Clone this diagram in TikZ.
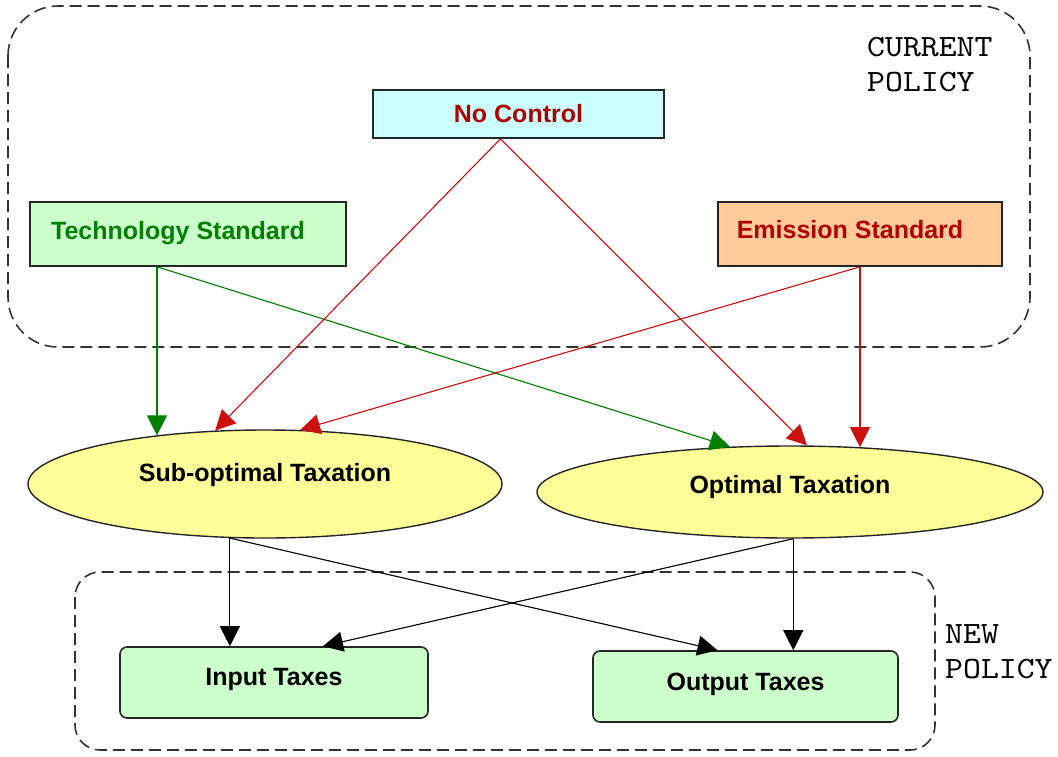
\documentclass[tikz,border=0pt]{standalone}
\usepackage{fontspec}
\setmainfont{Liberation Sans}
\newfontfamily\polfont[FakeStretch=1.1]{lmmono10-regular.otf}
\usetikzlibrary{arrows.meta,calc,shapes.geometric}
\definecolor{dred}{HTML}{B00000}
\definecolor{lred}{HTML}{CC1010}
\definecolor{dgreen}{HTML}{008000}
\definecolor{cyanfill}{HTML}{CCFFFF}
\definecolor{greenfill}{HTML}{CCFFCC}
\definecolor{orangefill}{HTML}{FFCC99}
\definecolor{yellowfill}{HTML}{FFFF99}
\definecolor{dashgray}{HTML}{333333}
\tikzset{
  lbl/.style={font=\fontsize{25}{29}\selectfont\bfseries},
  sqbox/.style={draw=black!85, line width=1.6pt, lbl, inner sep=0pt},
  rdbox/.style={draw=black!85, line width=1.6pt, lbl, inner sep=0pt, rounded corners=7pt},
  ell/.style={ellipse, draw=black!85, line width=1.4pt, fill=yellowfill, lbl, inner sep=0pt},
  region/.style={draw=dashgray, line width=1.6pt, dash pattern=on 12pt off 6pt},
  poltext/.style={font=\polfont\fontsize{31}{35}\selectfont, align=left, anchor=north west, inner sep=0pt},
  tip/.style={-{Triangle[length=20pt,width=20pt]}},
  conn/.style={tip, line width=1.1pt},
}
\begin{document}
\begin{tikzpicture}[x=1pt,y=-1pt]
\useasboundingbox (0,0) rectangle (1058,756);
% regions
\draw[region, rounded corners=50pt] (8,6) rectangle (1030,347);
\draw[region, rounded corners=25pt] (75,572) rectangle (935,750);
\node[poltext] (curpol) at (867,37) {CURRENT\\POLICY};
\node[poltext] (newpol) at (945,624) {NEW\\POLICY};
% top boxes
\node[sqbox, fill=cyanfill, text=dred, minimum width=291pt, minimum height=48pt] (nc) at (518.5,114) {\raisebox{-1pt}{No Control}};
\node[sqbox, fill=greenfill, text=dgreen, minimum width=316pt, minimum height=64pt] (tech) at (188,234) {\hspace*{-20pt}\raisebox{8pt}{Technology Standard}};
\node[sqbox, fill=orangefill, text=dred, minimum width=284pt, minimum height=64pt] (em) at (860,234) {\hspace*{-20pt}\raisebox{9pt}{Emission Standard}};
% ellipses
\node[ell, minimum width=474pt, minimum height=108pt] (sub) at (265,484) {\raisebox{24pt}{Sub-optimal Taxation}};
\node[ell, minimum width=506pt, minimum height=92pt] (opt) at (790,492) {\raisebox{16pt}{Optimal Taxation}};
% bottom boxes
\node[rdbox, fill=greenfill, minimum width=308pt, minimum height=71pt] (inp) at (274,682.5) {\raisebox{11pt}{Input Taxes}};
\node[rdbox, fill=greenfill, minimum width=305pt, minimum height=71pt] (out) at (745.5,686.5) {\raisebox{10pt}{Output Taxes}};
% green connectors
\coordinate (techs) at ($(tech.south)+(-31,0)$);
\draw[conn, draw=dgreen, fill=dgreen] (techs) -- (techs |- sub.156);
\draw[conn, draw=dgreen, fill=dgreen] (techs) -- (opt.143);
% red connectors
\coordinate (ncs) at ($(nc.south)+(-18,0)$);
\draw[conn, draw=lred, fill=dred] (ncs) -- (sub.133);
\draw[conn, draw=lred, fill=dred] (ncs) -- (opt.70);
\draw[conn, draw=lred, fill=dred] (em.south) -- (sub.57);
\draw[conn, draw=lred, fill=dred] (em.south) -- (em.south |- opt.32);
% black connectors
\coordinate (subs) at (sub.-123);
\coordinate (opts) at (opt.-86);
\draw[conn, draw=black, fill=black] (subs) -- (subs |- inp.north);
\draw[conn, draw=black, fill=black] (subs) -- ($(out.north)+(-28,0)$);
\draw[conn, draw=black, fill=black] (opts) -- ($(inp.north)+(49,0)$);
\draw[conn, draw=black, fill=black] (opts) -- (opts |- out.north);
\end{tikzpicture}
\end{document}
